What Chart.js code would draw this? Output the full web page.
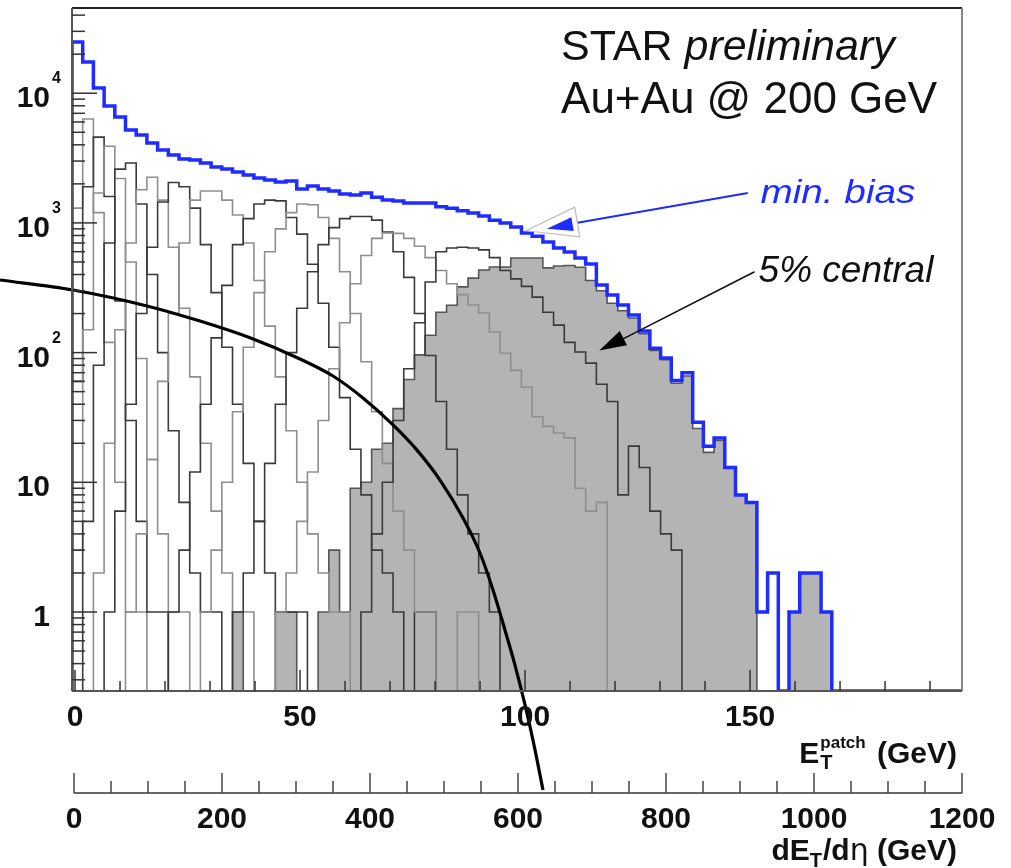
<!DOCTYPE html>
<html>
<head>
<meta charset="utf-8">
<script src="https://cdn.jsdelivr.net/npm/chart.js@4.4.1/dist/chart.umd.min.js"></script>
<style>
  html, body { margin: 0; padding: 0; background: #fff; }
  #wrap { width: 1011px; height: 868px; }
</style>
</head>
<body>
<div id="wrap"><canvas id="chart" width="1011" height="868"></canvas></div>
<script>
// E_T^patch binning (GeV)
const binStart = -0.67;
const binWidth = 2.378;
const nBins = 84;
const yMin = 0.246;
const yMax = 45400;

// axis tick labels
const xTickLabels = [0, 50, 100, 150];
const x2TickLabels = [0, 200, 400, 600, 800, 1000, 1200];
const yTickDecades = [0, 1, 2, 3, 4];

// minimum bias, counts per bin from bin 0
const minBias = [24800, 17400, 10960, 7970, 6550, 5200, 4760, 4130, 3650, 3340,
  3110, 3060, 2900, 2700, 2600, 2470, 2340, 2220, 2140, 2070,
  2100, 1830, 1930, 1830, 1760, 1670, 1640, 1700, 1580, 1500,
  1475, 1425, 1425, 1425, 1330, 1300, 1240, 1190, 1130, 1050,
  1000, 930, 835, 790, 713, 640, 597, 537, 482, 332,
  278, 233, 195, 147, 108, 91, 61, 70, 29, 19,
  22, 13, 8, 7, 1, 2, 0, 1, 2, 2, 1];

// 0-5% central (filled), from bin 15
const central05Start = 15;
const central05 = [1, 0, 0, 0, 1, 1, 0, 0, 1, 3,
  1, 9, 10, 18, 20, 37, 62, 96, 136, 205,
  232, 321, 375, 433, 457, 457, 537, 537, 537, 450,
  465, 470, 455, 360, 300, 240, 210, 185, 140, 104,
  88, 58, 66, 26, 17, 21, 13, 8, 7, 0,
  0, 0, 1, 2, 2, 1];

// other centrality classes (outlines): first bin of each, then counts
const classNames = ['5-10%', '10-15%', '15-20%', '20-25%', '25-30%', '30-35%',
  '35-40%', '40-45%', '45-50%', '50-55%', '55-60%', '60-65%'];
const classStart = [27, 19, 15, 12, 9, 5, 3, 2, 1, 0, 0, 0];
const cent05_10 = [1, 4, 10, 30, 75, 170, 350, 600, 640, 650, 640, 620, 540, 430, 370, 324, 268, 205, 163, 120, 101, 83, 57, 42, 8, 19, 13, 6, 4, 3];
const cent10_15 = [1, 2, 5, 12, 30, 75, 170, 340, 560, 760, 835, 830, 760, 660, 540, 430, 340, 280, 233, 202, 144, 99, 73, 54, 32, 27, 24, 22, 9, 6, 7];
const cent15_20 = [1, 2, 5, 14, 40, 100, 220, 420, 680, 920, 1080, 1120, 1120, 1050, 850, 600, 380, 200, 95, 42, 18, 8, 4, 2, 1];
const cent20_25 = [1, 3, 10, 35, 110, 290, 600, 900, 1200, 1400, 1380, 1100, 760, 420, 200, 85, 35, 14, 6, 3, 1, 1, 0, 0, 1, 1];
const cent25_30 = [1, 3, 12, 40, 130, 330, 680, 1080, 1400, 1500, 1480, 1100, 820, 480, 240, 110, 45, 18, 8, 3, 2, 1, 0, 1, 1];
const cent30_35 = [1, 4, 15, 60, 200, 700, 1500, 1760, 1760, 1500, 1150, 700, 360, 160, 65, 25, 10, 4, 2, 1, 1];
const cent35_40 = [1, 6, 40, 200, 650, 1450, 2050, 1900, 1300, 680, 290, 110, 40, 14, 5, 2, 1, 1, 1];
const cent40_45 = [2, 20, 150, 700, 1800, 2250, 1500, 650, 220, 65, 20, 6, 2, 1, 1];
const cent45_50 = [5, 80, 700, 2600, 2900, 1400, 400, 100, 25, 7, 2, 1, 1];
const cent50_55 = [3, 150, 1700, 3900, 2200, 500, 90, 15, 4, 1, 1];
const cent55_60 = [60, 1900, 4590, 1600, 250, 30, 5, 1, 1];
const cent60_65 = [1300, 6330, 1200, 120, 10, 1, 1];
const classCounts = [cent05_10, cent10_15, cent15_20, cent20_25, cent25_30, cent30_35,
  cent35_40, cent40_45, cent45_50, cent50_55, cent55_60, cent60_65];

// black curve, against dE_T/deta (GeV)
const curveX = [-100, -1.35, 98.6, 170.3, 237.8, 305.4, 350, 390.5, 431.1, 463.5,
  494.6, 525.7, 548.6, 566.2, 582.4, 595.9, 609.5, 621.6, 633.8];
const curveY = [363, 304, 229, 175, 130, 89.3, 66.0, 44.7, 27.7, 17.7,
  10.4, 5.31, 2.85, 1.48, 0.727, 0.390, 0.192, 0.0944, 0.0424];

const edge = k => binStart + k * binWidth;

function histPoints(start, counts, total) {
  const n = total || counts.length;
  const pts = [{ x: edge(start), y: yMin }];
  for (let i = 0; i < n; i++) {
    const c = counts[i] || 0;
    pts.push({ x: edge(start + i), y: c > 0 ? c : yMin });
  }
  pts.push({ x: edge(start + n), y: yMin });
  return pts;
}

const datasets = [];
datasets.push({
  label: 'min. bias',
  data: histPoints(0, minBias, nBins),
  stepped: true,
  borderColor: '#1f2cff',
  borderWidth: 3.5,
  order: 0
});
datasets.push({
  label: 'curve',
  xAxisID: 'x2',
  data: curveX.map((v, i) => ({ x: v, y: curveY[i] })),
  borderColor: '#000',
  borderWidth: 3.2,
  cubicInterpolationMode: 'monotone',
  clip: false,
  order: 1
});
classCounts.forEach((counts, i) => {
  datasets.push({
    label: classNames[i],
    data: histPoints(classStart[i], counts),
    stepped: true,
    borderColor: i % 2 === 0 ? '#3a3a3a' : '#8e8e8e',
    borderWidth: 1.6,
    order: 2 + i
  });
});
datasets.push({
  label: '0-5%',
  data: histPoints(central05Start, central05),
  stepped: true,
  borderColor: '#555',
  borderWidth: 1.6,
  backgroundColor: '#b4b4b4',
  fill: 'start',
  order: 50
});

const FONT = '"Liberation Sans", Arial, Helvetica, sans-serif';

function drawPieces(ctx, pieces, x, y) {
  // pieces: [text, font, dy, extra gap]
  let cx = x;
  pieces.forEach(p => {
    ctx.font = p[1];
    ctx.fillText(p[0], cx, y + (p[2] || 0));
    cx += ctx.measureText(p[0]).width + (p[3] || 0);
  });
}
function piecesWidth(ctx, pieces) {
  let w = 0;
  pieces.forEach(p => { ctx.font = p[1]; w += ctx.measureText(p[0]).width + (p[3] || 0); });
  return w;
}

function arrowHead(ctx, tx, ty, fx, fy, len, half) {
  const ang = Math.atan2(ty - fy, tx - fx);
  const bx = tx - len * Math.cos(ang), by = ty - len * Math.sin(ang);
  const nx = -Math.sin(ang) * half, ny = Math.cos(ang) * half;
  ctx.beginPath();
  ctx.moveTo(tx, ty);
  ctx.lineTo(bx + nx, by + ny);
  ctx.lineTo(bx - nx, by - ny);
  ctx.closePath();
}

const rootAxes = {
  id: 'rootAxes',
  afterDatasetsDraw(chart) {
    const { ctx, chartArea: a, scales } = chart;
    const sx = scales.x, sx2 = scales.x2, sy = scales.y;
    ctx.save();

    // frame
    ctx.lineWidth = 2;
    ctx.strokeStyle = '#222';
    ctx.beginPath(); ctx.moveTo(a.left, a.top); ctx.lineTo(a.right, a.top); ctx.stroke();
    ctx.strokeStyle = '#888';
    ctx.beginPath(); ctx.moveTo(a.right, a.top); ctx.lineTo(a.right, a.bottom); ctx.stroke();
    ctx.strokeStyle = '#555';
    ctx.beginPath(); ctx.moveTo(a.left, a.top); ctx.lineTo(a.left, a.bottom); ctx.stroke();
    ctx.beginPath(); ctx.moveTo(a.left, a.bottom); ctx.lineTo(a.right, a.bottom); ctx.stroke();

    // y ticks (inside)
    ctx.lineWidth = 1.5;
    ctx.strokeStyle = '#333';
    for (let d = -1; d <= 4; d++) {
      for (let m = 1; m <= 9; m++) {
        const v = m * Math.pow(10, d);
        if (v < sy.min || v > sy.max) continue;
        const py = sy.getPixelForValue(v);
        const len = m === 1 ? 25 : 13;
        ctx.beginPath(); ctx.moveTo(a.left, py); ctx.lineTo(a.left + len, py); ctx.stroke();
      }
    }
    // y labels
    ctx.fillStyle = '#111';
    ctx.textBaseline = 'alphabetic';
    yTickDecades.forEach(d => {
      const py = sy.getPixelForValue(Math.pow(10, d));
      ctx.textAlign = 'right';
      ctx.font = 'bold 30px ' + FONT;
      const base = d === 0 ? '1' : '10';
      ctx.fillText(base, 50, py + 14);
      if (d >= 2) {
        ctx.textAlign = 'left';
        ctx.font = 'bold 16px ' + FONT;
        ctx.fillText(String(d), 52, py - 10);
      }
    });

    // x ticks (inside, upward)
    for (let v = 0; v <= 190; v += 10) {
      const px = sx.getPixelForValue(v);
      const len = v % 50 === 0 ? 21 : 10;
      ctx.beginPath(); ctx.moveTo(px, a.bottom); ctx.lineTo(px, a.bottom - len); ctx.stroke();
    }
    ctx.textAlign = 'center';
    ctx.font = 'bold 30px ' + FONT;
    xTickLabels.forEach(v => {
      ctx.fillText(String(v), sx.getPixelForValue(v), a.bottom + 35);
    });

    // second axis: dE_T/deta
    const y2 = a.bottom + 102;
    ctx.strokeStyle = '#666';
    ctx.lineWidth = 2;
    ctx.beginPath(); ctx.moveTo(sx2.getPixelForValue(0), y2); ctx.lineTo(sx2.getPixelForValue(1200), y2); ctx.stroke();
    ctx.lineWidth = 1.5;
    ctx.strokeStyle = '#444';
    for (let v = 0; v <= 1200; v += 50) {
      const px = sx2.getPixelForValue(v);
      const len = v % 200 === 0 ? 20 : 12;
      ctx.beginPath(); ctx.moveTo(px, y2); ctx.lineTo(px, y2 - len); ctx.stroke();
    }
    ctx.font = 'bold 30px ' + FONT;
    x2TickLabels.forEach(v => {
      ctx.fillText(String(v), sx2.getPixelForValue(v), y2 + 35);
    });

    // axis titles
    ctx.textAlign = 'left';
    const b30 = 'bold 30px ' + FONT;
    ctx.font = b30;
    const wE = ctx.measureText('E').width;
    ctx.font = 'bold 17px ' + FONT;
    const wPatch = ctx.measureText('patch').width;
    ctx.font = b30;
    const wGeV = ctx.measureText(' (GeV)').width;
    const t1x = 957 - (wE + wPatch + 4 + wGeV);
    const t1y = a.bottom + 72;
    ctx.fillText('E', t1x, t1y);
    ctx.font = 'bold 17px ' + FONT;
    ctx.fillText('patch', t1x + wE + 1, t1y - 15);
    ctx.font = 'bold 20px ' + FONT;
    ctx.fillText('T', t1x + wE + 1, t1y + 6);
    ctx.font = b30;
    ctx.fillText(' (GeV)', t1x + wE + wPatch + 4, t1y);

    const p2 = [['dE', b30, 0], ['T', 'bold 20px ' + FONT, 7, 1], ['/d', b30, 0], ['\u03b7', '30px "DejaVu Sans", ' + FONT, 0], [' (GeV)', b30, 0]];
    const w2 = piecesWidth(ctx, p2);
    drawPieces(ctx, p2, 957 - w2, a.bottom + 169);

    // annotations
    ctx.fillStyle = '#111';
    drawPieces(ctx, [['STAR ', '43px ' + FONT, 0], ['preliminary', 'italic 43px ' + FONT, 0]],
      sx.getPixelForValue(108), sy.getPixelForValue(18000));
    ctx.font = '44px ' + FONT;
    ctx.fillText('Au+Au @ 200 GeV', sx.getPixelForValue(108), sy.getPixelForValue(7030));

    // min bias label + arrow
    ctx.save();
    ctx.fillStyle = '#1f2cff';
    ctx.font = 'italic 34px ' + FONT;
    const mbx = sx.getPixelForValue(152.3), mby = sy.getPixelForValue(1420);
    const mbw = ctx.measureText('min. bias').width;
    ctx.translate(mbx, mby);
    ctx.scale(155 / mbw, 1);
    ctx.fillText('min. bias', 0, 0);
    ctx.restore();

    const tipX = sx.getPixelForValue(100.2), tipY = sy.getPixelForValue(870);
    const tailX = sx.getPixelForValue(149.5), tailY = sy.getPixelForValue(1700);
    ctx.strokeStyle = '#1f2cff';
    ctx.lineWidth = 2;
    ctx.beginPath(); ctx.moveTo(tailX, tailY); ctx.lineTo(tipX + 40, tipY - 6); ctx.stroke();
    arrowHead(ctx, tipX, tipY, tailX, tailY, 52, 15);
    ctx.fillStyle = '#fff'; ctx.fill();
    ctx.strokeStyle = '#bbb'; ctx.lineWidth = 1.2; ctx.stroke();
    const hx = tipX + 21, hy = tipY - 2;
    arrowHead(ctx, hx, hy, tailX, tailY, 26, 7);
    ctx.fillStyle = '#1f2cff'; ctx.fill();

    // 5% central label + arrow
    ctx.fillStyle = '#111';
    ctx.font = 'italic 37px ' + FONT;
    ctx.fillText('5% central', sx.getPixelForValue(151.9), sy.getPixelForValue(350));
    const ctX = sx.getPixelForValue(116.5), ctY = sy.getPixelForValue(104);
    const cfX = sx.getPixelForValue(151), cfY = sy.getPixelForValue(420);
    ctx.strokeStyle = '#111';
    ctx.lineWidth = 1.6;
    ctx.beginPath(); ctx.moveTo(cfX, cfY); ctx.lineTo(ctX + 15, ctY - 7); ctx.stroke();
    arrowHead(ctx, ctX, ctY, cfX, cfY, 27, 8);
    ctx.fillStyle = '#000'; ctx.fill();

    ctx.restore();
  }
};

new Chart(document.getElementById('chart'), {
  type: 'line',
  data: { datasets },
  options: {
    responsive: false,
    animation: false,
    devicePixelRatio: 1,
    layout: { padding: { left: 72, right: 49, top: 8, bottom: 177 } },
    elements: { point: { radius: 0 }, line: { fill: false } },
    plugins: { legend: { display: false }, tooltip: { enabled: false } },
    scales: {
      x: { type: 'linear', min: binStart, max: 197.1, display: false },
      x2: { type: 'linear', axis: 'x', position: 'bottom', min: -2.7, max: 1200, display: false },
      y: { type: 'logarithmic', min: yMin, max: yMax, display: false }
    }
  },
  plugins: [rootAxes]
});
</script>
</body>
</html>
